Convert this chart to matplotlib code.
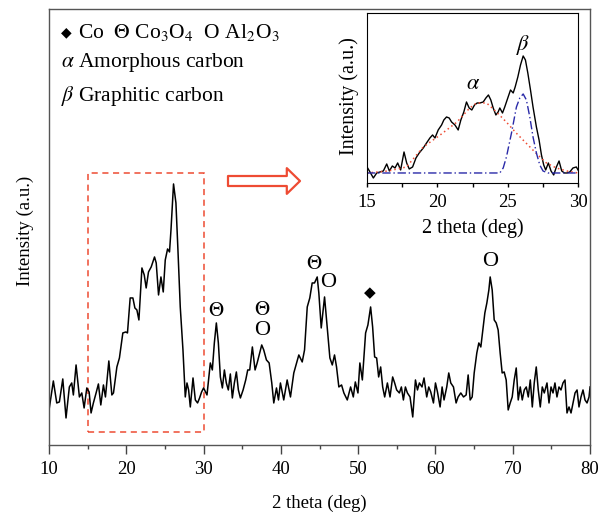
import matplotlib
matplotlib.use("Agg")
import matplotlib.pyplot as plt
from matplotlib.patches import Rectangle

plt.rcParams["font.family"] = ["Liberation Serif", "DejaVu Sans"]
plt.rcParams["mathtext.fontset"] = "stix"

# main XRD pattern (2 theta in deg, intensity in a.u.)
two_theta = [
    10.04, 10.56, 11.00, 11.34, 11.78, 12.20, 12.63, 12.94, 13.15, 13.50,
    13.93, 14.24, 14.54, 14.89, 15.19, 15.44, 15.74, 16.09, 16.39, 16.70,
    17.04, 17.30, 17.74, 18.13, 18.34, 18.78, 19.11, 19.55, 19.94, 20.15,
    20.50, 20.85, 21.11, 21.37, 21.63, 22.02, 22.32, 22.57, 22.87, 23.22,
    23.65, 23.87, 24.17, 24.48, 24.78, 25.04, 25.34, 25.59, 25.78, 26.11,
    26.42, 26.68, 26.98, 27.33, 27.63, 27.85, 28.06, 28.28, 28.63, 28.93,
    29.22, 29.48, 29.74, 30.00, 30.44, 30.87, 31.13, 31.39, 31.65, 31.91,
    32.17, 32.43, 32.69, 32.94, 33.20, 33.46, 33.72, 33.98, 34.24, 34.50,
    34.76, 35.11, 35.45, 35.71, 35.97, 36.31, 36.66, 36.93, 37.26, 37.52,
    37.78, 38.13, 38.48, 38.82, 39.08, 39.43, 39.69, 39.94, 40.37, 40.81,
    41.24, 41.67, 42.32, 42.76, 43.06, 43.41, 43.74, 44.05, 44.35, 44.70,
    44.91, 45.22, 45.65, 45.91, 46.34, 46.65, 46.94, 47.20, 47.50, 47.85,
    48.15, 48.59, 49.02, 49.37, 49.63, 49.97, 50.22, 50.54, 50.96, 51.26,
    51.61, 51.87, 52.13, 52.39, 52.65, 52.91, 53.17, 53.43, 53.78, 54.12,
    54.46, 54.72, 54.98, 55.33, 55.59, 55.85, 56.11, 56.37, 56.71, 57.06,
    57.41, 57.67, 57.92, 58.26, 58.52, 58.87, 59.13, 59.39, 59.74, 60.00,
    60.26, 60.60, 60.86, 61.11, 61.46, 61.72, 61.98, 62.33, 62.67, 62.93,
    63.28, 63.63, 63.97, 64.23, 64.49, 64.75, 65.01, 65.35, 65.61, 65.87,
    66.13, 66.39, 66.65, 66.91, 67.08, 67.34, 67.60, 67.86, 68.11, 68.37,
    68.63, 68.89, 69.15, 69.41, 69.67, 69.93, 70.19, 70.45, 70.71, 70.97,
    71.23, 71.49, 71.75, 72.01, 72.27, 72.53, 72.78, 73.04, 73.30, 73.56,
    73.82, 74.08, 74.43, 74.69, 74.95, 75.21, 75.46, 75.72, 75.98, 76.24,
    76.50, 76.76, 77.02, 77.28, 77.54, 77.80, 78.06, 78.32, 78.57, 78.83,
    79.09, 79.35, 79.61, 79.87, 80.00,
]
intensity = [
    37, 64, 42, 43, 66, 27, 58, 62, 50, 80,
    48, 52, 37, 57, 53, 32, 42, 52, 61, 40,
    60, 48, 84, 50, 52, 78, 87, 112, 113, 112,
    147, 147, 137, 135, 125, 177, 170, 157, 173, 178,
    188, 182, 150, 168, 153, 185, 196, 193, 215, 261,
    242, 195, 138, 95, 48, 62, 55, 38, 67, 45,
    42, 47, 53, 57, 50, 82, 75, 102, 122, 102,
    68, 57, 75, 62, 55, 71, 47, 62, 73, 55,
    47, 55, 65, 75, 75, 98, 75, 82, 92, 100,
    95, 85, 82, 62, 42, 57, 45, 62, 45, 65,
    48, 72, 90, 83, 95, 138, 147, 162, 162, 168,
    152, 117, 148, 125, 87, 80, 90, 78, 58, 60,
    52, 45, 58, 48, 63, 52, 82, 65, 112, 120,
    138, 118, 88, 87, 68, 78, 58, 48, 62, 48,
    68, 62, 55, 52, 58, 45, 58, 52, 48, 28,
    65, 55, 62, 58, 67, 48, 58, 53, 42, 62,
    53, 38, 58, 45, 58, 72, 62, 58, 42, 48,
    52, 48, 50, 70, 45, 48, 72, 92, 102, 98,
    115, 132, 142, 155, 168, 155, 125, 122, 115, 92,
    72, 73, 65, 35, 42, 48, 65, 77, 45, 58,
    45, 55, 58, 48, 65, 38, 62, 78, 55, 38,
    58, 52, 62, 42, 58, 52, 62, 48, 58, 55,
    62, 65, 32, 38, 32, 42, 52, 55, 38, 48,
    55, 45, 42, 48, 58,
]

# peak markers: (symbol, 2 theta, height, size)
peak_symbols = [r"$\Theta$", r"$\Theta$", "O", r"$\Theta$", "O", "◆", "O"]
peak_pos = [31.6, 37.55, 37.55, 44.25, 46.1, 51.5, 67.1]
peak_height = [133, 134, 114, 180, 162, 152, 183]
peak_size = [15, 15, 16, 15, 16, 11, 16]

# inset: measured pattern and the two fitted components
inset_theta = [
    15.00, 15.21, 15.45, 15.69, 15.92, 16.16, 16.40, 16.59, 16.80, 16.99,
    17.18, 17.39, 17.63, 17.82, 18.00, 18.24, 18.48, 18.71, 19.00, 19.23,
    19.47, 19.66, 19.83, 20.06, 20.30, 20.46, 20.65, 20.84, 21.01, 21.25,
    21.48, 21.67, 21.88, 22.07, 22.26, 22.45, 22.64, 22.83, 23.02, 23.26,
    23.45, 23.63, 23.80, 23.97, 24.16, 24.32, 24.44, 24.63, 24.79, 25.03,
    25.20, 25.39, 25.53, 25.72, 25.91, 26.10, 26.26, 26.43, 26.62, 26.80,
    27.04, 27.23, 27.40, 27.56, 27.70, 27.89, 28.08, 28.27, 28.46, 28.65,
    28.84, 29.03, 29.22, 29.41, 29.64, 29.88, 30.00,
]
inset_int = [
    16, 11, 5, 10, 11, 12, 19, 12, 17, 15,
    20, 13, 31, 20, 14, 16, 25, 30, 35, 40,
    45, 48, 45, 53, 58, 63, 66, 65, 61, 58,
    53, 63, 71, 81, 75, 73, 78, 80, 80, 81,
    85, 88, 83, 75, 68, 71, 75, 70, 76, 86,
    93, 90, 96, 106, 118, 127, 123, 110, 93, 76,
    56, 43, 28, 18, 13, 20, 12, 8, 16, 22,
    12, 10, 10, 11, 15, 16, 13,
]
alpha_theta = [15.0, 16.5, 17.8, 19.0, 20.2, 21.4, 22.3, 22.8, 23.5, 24.2,
               24.9, 25.6, 26.3, 27.0, 27.75, 28.46, 29.2, 30.0]
alpha_int = [10, 12, 16, 36, 48, 61, 75, 80, 80, 71,
             61, 50, 40, 30, 20, 15, 12, 10]
beta_theta = [15.0, 24.44, 24.68, 24.91, 25.27, 25.62, 25.86, 26.10, 26.33,
              26.57, 26.80, 27.04, 27.28, 27.51, 27.87, 30.0]
beta_int = [10, 10, 15, 26, 50, 76, 85, 89, 83,
            66, 46, 30, 18, 12, 10, 10]

red = "#ee4b33"

fig = plt.figure(figsize=(6.0, 5.15), dpi=100)
ax = fig.add_axes([0.0817, 0.136, 0.9017, 0.8466])
ax.plot(two_theta, intensity, color="black", lw=1.1)
ax.set_xlim(10, 80)
ax.set_ylim(0, 436)
ax.set_xticks(range(10, 81, 10))
ax.set_xticks(range(15, 80, 10), minor=True)
ax.set_yticks([])
ax.tick_params(axis="x", which="major", direction="out", length=6.5,
               width=1.0, labelsize=13.5, pad=5, color="#444444")
ax.tick_params(axis="x", which="minor", direction="out", length=3,
               width=1.0, color="#444444")
for sp in ax.spines.values():
    sp.set_color("#555555")
    sp.set_linewidth(1.0)
ax.set_xlabel("2 theta (deg)", fontsize=13.5)
ax.xaxis.set_label_coords(0.5, -0.115)
ax.set_ylabel("Intensity (a.u.)", fontsize=13.5)
ax.yaxis.set_label_coords(-0.028, 0.49)

for sym, x, y, s in zip(peak_symbols, peak_pos, peak_height, peak_size):
    fam = ["DejaVu Sans"] if sym == "◆" else ["Liberation Serif"]
    ax.text(x, y, sym, fontsize=s, ha="center", va="center", family=fam)

# zoom box and arrow
ax.add_patch(Rectangle((15, 13), 15, 259, fill=False, ec=red, lw=1.1,
                       ls=(0, (4, 3))))
ax.annotate("", xy=(300, 334), xytext=(228, 334), xycoords="figure pixels",
            textcoords="figure pixels",
            arrowprops=dict(arrowstyle="simple,tail_width=0.72,head_width=1.85,head_length=0.95",
                            fc="white", ec=red, lw=1.6, mutation_scale=10,
                            shrinkA=0, shrinkB=0))

# phase legend text
ax.text(0.0225, 0.947, "◆", transform=ax.transAxes, family=["DejaVu Sans"],
        fontsize=10, va="center", ha="left")
ax.text(0.053, 0.947, r"Co  $\Theta$ Co$_3$O$_4$  O Al$_2$O$_3$",
        transform=ax.transAxes, fontsize=15.5, va="center", ha="left")
ax.text(0.0225, 0.878, r"$\alpha$ Amorphous carbon", transform=ax.transAxes,
        fontsize=15.5, va="center", ha="left")
ax.text(0.0225, 0.80, r"$\beta$ Graphitic carbon", transform=ax.transAxes,
        fontsize=15.5, va="center", ha="left")

# inset
ins = fig.add_axes([0.6117, 0.6447, 0.3517, 0.3301])
ins.plot(inset_theta, inset_int, color="black", lw=1.0)
ins.plot(alpha_theta, alpha_int, color=red, lw=1.1, ls=(0, (1, 2)))
ins.plot(beta_theta, beta_int, color="#2a2aa8", lw=1.0, ls=(0, (6, 2, 1, 2)))
ins.set_xlim(15, 30)
ins.set_ylim(0, 170)
ins.set_xticks([15, 20, 25, 30])
ins.set_xticks([17.5, 22.5, 27.5], minor=True)
ins.set_yticks([])
ins.tick_params(axis="x", which="both", direction="out", length=3,
                width=1.0, labelsize=13.5, pad=5)
ins.set_xlabel("2 theta (deg)", fontsize=14.5)
ins.xaxis.set_label_coords(0.5, -0.205)
ins.set_ylabel("Intensity (a.u.)", fontsize=14.5)
ins.yaxis.set_label_coords(-0.04, 0.51)
ins.text(22.55, 98, r"$\alpha$", fontsize=16, ha="center", va="center")
ins.text(26.1, 138, r"$\beta$", fontsize=16, ha="center", va="center")

fig.savefig("out.png", dpi=100)
